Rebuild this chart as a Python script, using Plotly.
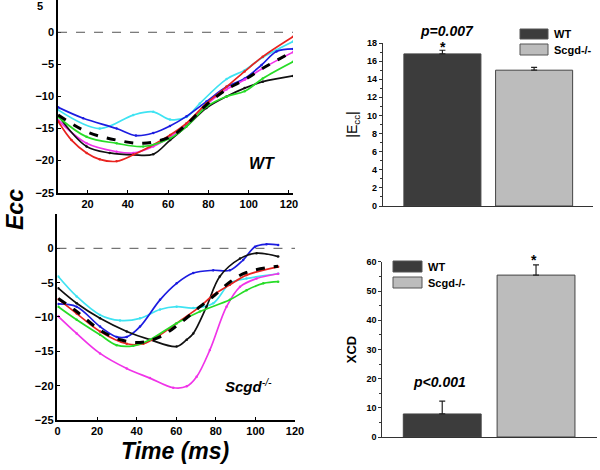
import plotly.graph_objects as go

FONT = "Arial, Liberation Sans, sans-serif"

# ---------------- WT strain curves (time ms, Ecc %) ----------------
wt_blue_x = [5.4, 17.8, 34.4, 44, 52.6, 60.9, 69.1, 79, 89, 98, 106.4, 113.8, 122]
wt_blue_y = [-11.7, -13.4, -15.0, -16.1, -15.7, -14.6, -13.1, -10.8, -8.5, -7.2, -5.1, -3.0, -2.6]
wt_cyan_x = [5.4, 26, 42.7, 52.6, 60.9, 69.1, 75.7, 89, 98, 107, 113.8, 122]
wt_cyan_y = [-12.1, -15.0, -12.9, -12.4, -13.6, -13.2, -11.1, -7.3, -5.9, -3.9, -2.75, -1.45]
wt_red_x = [5.4, 12, 19.5, 26, 34.4, 42.7, 51, 61, 69, 79, 89, 98, 107, 122]
wt_red_y = [-13.9, -16.8, -18.8, -19.8, -20.1, -19.1, -17.8, -16.0, -14.2, -11.1, -8.5, -6.1, -3.8, -0.7]
wt_mag_x = [5.4, 19.5, 34.4, 42.7, 52.6, 61, 69, 79, 89, 98, 107, 122]
wt_mag_y = [-13.7, -17.3, -18.6, -18.8, -17.8, -16.3, -14.4, -11.3, -8.9, -7.4, -5.6, -3.1]
wt_black_x = [5.4, 19.5, 31, 42.7, 52.6, 61, 69, 79, 89, 98, 107, 122]
wt_black_y = [-13.0, -17.8, -18.8, -19.1, -19.0, -16.8, -14.7, -11.8, -10.0, -8.7, -7.7, -6.8]
wt_green_x = [5.4, 19.5, 34.4, 47.6, 61, 69, 79, 89, 98, 107, 122]
wt_green_y = [-13.2, -16.3, -17.3, -17.8, -16.5, -14.7, -11.6, -10.0, -9.2, -7.2, -4.6]
wt_mean_x = [5.4, 19.5, 34.4, 47.6, 61, 69, 79, 89, 98, 107, 122]
wt_mean_y = [-12.9, -15.5, -16.8, -17.3, -16.3, -14.4, -11.3, -8.9, -7.4, -5.6, -3.0]

# ---------------- Scgd-/- strain curves ----------------
sc_blue_x = [0.4, 9.7, 21.5, 29.9, 35, 41.7, 51.8, 60.2, 68.6, 78.7, 87.1, 93.8, 99.8, 105.6, 111.5]
sc_blue_y = [-8.1, -8.5, -11.4, -12.9, -12.9, -11.4, -7.5, -5.1, -3.6, -3.2, -3.2, -1.7, 0.24, 0.6, 0.5]
sc_cyan_x = [0.4, 9.7, 21.5, 31.6, 41.7, 51.8, 60.2, 68.6, 78.7, 87.1, 95.5, 111.5]
sc_cyan_y = [-4.1, -7.0, -9.7, -10.5, -10.2, -8.9, -8.5, -8.7, -8.0, -5.1, -4.4, -3.7]
sc_black_x = [0.4, 9.7, 21.5, 35, 46.7, 60.2, 65.3, 68.6, 75.3, 82, 92.2, 100.6, 111.5]
sc_black_y = [-5.8, -8.0, -10.2, -12.1, -13.3, -14.3, -13.3, -12.4, -8.5, -4.1, -1.5, -0.7, -1.2]
sc_red_x = [0.4, 9.7, 21.5, 35, 43.4, 51.8, 60.2, 72, 78.7, 87.1, 95.5, 111.5]
sc_red_y = [-7.4, -9.5, -12.1, -13.9, -13.9, -12.6, -10.9, -8.5, -6.8, -5.3, -3.9, -2.7]
sc_green_x = [0.4, 9.7, 21.5, 29.9, 38.3, 46.7, 60.2, 72, 87.1, 95.5, 104, 111.5]
sc_green_y = [-8.5, -10.4, -12.6, -14.1, -14.2, -13.3, -10.9, -9.2, -7.5, -6.1, -5.1, -4.85]
sc_mag_x = [0.4, 9.7, 21.5, 35, 46.7, 58.5, 65.3, 70.3, 77, 85.4, 92.2, 100.6, 111.5]
sc_mag_y = [-9.9, -12.4, -15.3, -17.5, -18.9, -20.3, -20.1, -18.7, -14.8, -8.5, -5.6, -4.4, -3.7]
sc_mean_x = [0.4, 9.7, 21.5, 31.6, 41.7, 51.8, 61.9, 72, 78.7, 87.1, 95.5, 111.5]
sc_mean_y = [-7.3, -9.2, -11.9, -13.3, -13.7, -12.9, -10.9, -8.5, -7.0, -4.9, -3.5, -2.6]

# ---------------- bar summaries ----------------
groups = ["WT", "Scgd-/-"]
ecc_vals = [16.8, 15.0]
ecc_err = [0.4, 0.3]
xcd_vals = [7.9, 55.5]
xcd_err = [4.4, 3.5]

c_blue, c_cyan, c_red = "#1c1ce0", "#3fe3f2", "#e8231f"
c_mag, c_black, c_green = "#f034e8", "#111111", "#27dc27"
bar_dark, bar_light = "#3c3c3c", "#bcbcbc"

fig = go.Figure()

def add_lines(series, xa, ya):
    for xs, ys, col in series:
        fig.add_trace(go.Scatter(x=xs, y=ys, mode="lines+markers", xaxis=xa, yaxis=ya,
                                 line=dict(color=col, width=1.7, shape="spline", smoothing=1.0),
                                 marker=dict(size=2.5, color=col), showlegend=False))

add_lines([(wt_cyan_x, wt_cyan_y, c_cyan), (wt_blue_x, wt_blue_y, c_blue),
           (wt_mag_x, wt_mag_y, c_mag), (wt_black_x, wt_black_y, c_black),
           (wt_red_x, wt_red_y, c_red), (wt_green_x, wt_green_y, c_green)], "x", "y")
fig.add_trace(go.Scatter(x=wt_mean_x, y=wt_mean_y, mode="lines", xaxis="x", yaxis="y",
                         line=dict(color="black", width=3, dash="dash", shape="spline"), showlegend=False))

add_lines([(sc_cyan_x, sc_cyan_y, c_cyan), (sc_blue_x, sc_blue_y, c_blue),
           (sc_black_x, sc_black_y, c_black), (sc_mag_x, sc_mag_y, c_mag),
           (sc_red_x, sc_red_y, c_red), (sc_green_x, sc_green_y, c_green)], "x2", "y2")
fig.add_trace(go.Scatter(x=sc_mean_x, y=sc_mean_y, mode="lines", xaxis="x2", yaxis="y2",
                         line=dict(color="black", width=3, dash="dash", shape="spline"), showlegend=False))

# bars
for i, (g, col) in enumerate(zip(groups, [bar_dark, bar_light])):
    fig.add_trace(go.Bar(x=[g], y=[ecc_vals[i]], xaxis="x3", yaxis="y3", width=0.84,
                         marker=dict(color=col, line=dict(color="#444", width=1)),
                         error_y=dict(type="data", array=[ecc_err[i]], arrayminus=[0], symmetric=False,
                                      color="#222", thickness=1.2, width=3), showlegend=False))
    fig.add_trace(go.Bar(x=[g], y=[xcd_vals[i]], xaxis="x4", yaxis="y4", width=0.83,
                         marker=dict(color=col, line=dict(color="#444", width=1)),
                         error_y=dict(type="data", array=[xcd_err[i]], arrayminus=[0], symmetric=False,
                                      color="#222", thickness=1.2, width=3), showlegend=False))

tickf = dict(family=FONT, size=11, color="black", weight="bold")
line_ax = dict(showline=True, linecolor="black", linewidth=1.5, showgrid=False, zeroline=False,
               ticks="inside", ticklen=3, tickcolor="black", tickfont=tickf, automargin=False)
bar_ax = dict(showline=True, linecolor="#333", linewidth=1, showgrid=False, zeroline=False,
              ticks="outside", ticklen=3, tickcolor="#333", automargin=False,
              tickfont=dict(family=FONT, size=9, color="black", weight="bold"))
bar_xax = dict(showticklabels=False, showline=True, linecolor="#333", linewidth=1, ticks="",
               showgrid=False, automargin=False)

fig.update_layout(
    width=600, height=470, margin=dict(l=0, r=0, t=0, b=0),
    paper_bgcolor="white", plot_bgcolor="white", barmode="overlay",
    xaxis=dict(domain=[0.0967, 0.4883], range=[5.3, 122], anchor="y", tickvals=[20, 40, 60, 80, 100, 120], **line_ax),
    yaxis=dict(domain=[0.590, 0.9996], range=[-25, 5], anchor="x", dtick=5, **line_ax),
    xaxis2=dict(domain=[0.0958, 0.4917], range=[0, 120], anchor="y2", dtick=20, **line_ax),
    yaxis2=dict(domain=[0.1064, 0.5447], range=[-25, 5], anchor="x2", tickvals=[-25, -20, -15, -10, -5, 0], **line_ax),
    xaxis3=dict(domain=[0.638, 0.988], range=[-0.65, 1.64], anchor="y3", **bar_xax),
    yaxis3=dict(domain=[0.5617, 0.9085], range=[0, 18], anchor="x3", dtick=2,
                minor=dict(ticks="outside", ticklen=2, dtick=1, tickcolor="#333"),
                title=dict(text="|E<sub>cc</sub>|", font=dict(family=FONT, size=14, color="black"), standoff=6),
                **bar_ax),
    xaxis4=dict(domain=[0.637, 0.995], range=[-0.64, 1.65], anchor="y4", **bar_xax),
    yaxis4=dict(domain=[0.0702, 0.4426], range=[0, 60], anchor="x4", dtick=10,
                minor=dict(ticks="outside", ticklen=2, dtick=5, tickcolor="#333"),
                title=dict(text="<b>XCD</b>", font=dict(family=FONT, size=13, color="black"), standoff=6),
                **bar_ax),
)

# zero reference lines
fig.add_shape(type="line", xref="x domain", yref="y", x0=0, x1=1, y0=0, y1=0,
              line=dict(color="#555", width=1, dash="dash"))
fig.add_shape(type="line", xref="x2 domain", yref="y2", x0=0, x1=1, y0=0, y1=0,
              line=dict(color="#555", width=1, dash="dash"))

def ann(text, x, y, size, **kw):
    fig.add_annotation(text=text, xref="paper", yref="paper", x=x / 600, y=1 - y / 470,
                       xanchor="center", yanchor="middle",
                       showarrow=False, font=dict(family=FONT, size=size, color="black"), **kw)

ann("<b>5</b>", 40, 6, 11)
ann("<b><i>WT</i></b>", 262, 163, 16)
ann("<b><i>Scgd</i></b><sup><i>-/-</i></sup>", 248, 385, 15)
ann("<b><i>Ecc</i></b>", 15, 210, 23, textangle=-90)
ann("<b><i>Time (ms)</i></b>", 175, 451, 23)
ann("<b><i>p=0.007</i></b>", 447, 31, 14)
ann("<b>*</b>", 443, 47, 14)
ann("<b><i>p&lt;0.001</i></b>", 440, 382, 14)
ann("<b>*</b>", 534, 260, 14)

# legends drawn as boxes + labels
def legend_box(x0, y0, x1, y1, col, label):
    fig.add_shape(type="rect", xref="paper", yref="paper", x0=x0 / 600, x1=x1 / 600,
                  y0=1 - y1 / 470, y1=1 - y0 / 470, fillcolor=col, line=dict(color="#555", width=1))
    fig.add_annotation(text="<b>" + label + "</b>", xref="paper", yref="paper", x=(x1 + 4) / 600,
                       y=1 - (y0 + y1) / 2 / 470, xanchor="left", yanchor="middle", showarrow=False,
                       font=dict(family=FONT, size=11, color="black"))

legend_box(520, 29, 548, 39, bar_dark, groups[0])
legend_box(520, 44, 548, 55, bar_light, groups[1])
legend_box(393, 261, 422, 272, bar_dark, groups[0])
legend_box(393, 277, 422, 288, bar_light, groups[1])

fig.write_html("out.html", config={"displayModeBar": False},
               post_script="document.body.style.margin='0';document.body.style.padding='0';")
